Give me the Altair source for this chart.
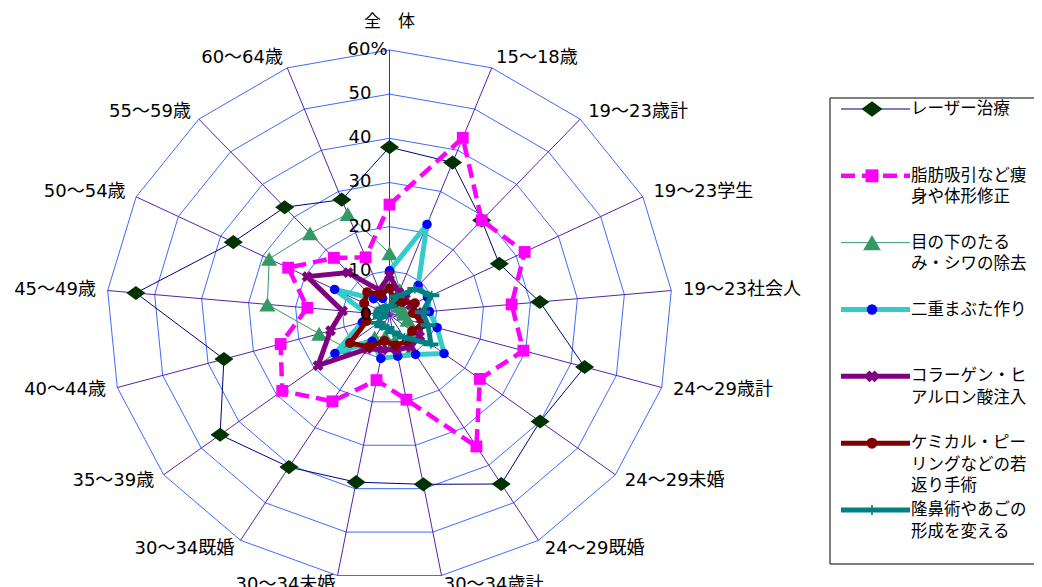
import altair as alt
import pandas as pd

# ---------------- data ----------------
cats = ["全　体", "15～18歳", "19～23歳計", "19～23学生", "19～23社会人",
        "24～29歳計", "24～29未婚", "24～29既婚", "30～34歳計", "30～34未婚",
        "30～34既婚", "35～39歳", "40～44歳", "45～49歳", "50～54歳",
        "55～59歳", "60～64歳"]

series_names = ["レーザー治療", "脂肪吸引など痩身や体形修正", "目の下のたるみ・シワの除去",
                "二重まぶた作り", "コラーゲン・ヒアルロン酸注入",
                "ケミカル・ピーリングなどの若返り手術", "隆鼻術やあごの形成を変える"]
legend_lines = [["レーザー治療"],
                ["脂肪吸引など痩", "身や体形修正"],
                ["目の下のたる", "み・シワの除去"],
                ["二重まぶた作り"],
                ["コラーゲン・ヒ", "アルロン酸注入"],
                ["ケミカル・ピー", "リングなどの若", "返り手術"],
                ["隆鼻術やあごの", "形成を変える"]]

laser    = [38, 37, 29, 26, 32, 43, 40, 45, 39, 38.5, 40.5, 45, 36.5, 54, 37, 33, 28]
lipo     = [25, 43, 29, 32, 26, 29.5, 24, 35, 19.5, 15, 23, 28.5, 24, 17.5, 24, 17.5, 14]
eye      = [14, 6, 3, 3, 3, 4, 6, 9, 6, 5, 6, 12, 15.5, 26, 28.5, 25, 24.5]
double   = [10, 22, 9, 9, 8.5, 10.5, 14.5, 10.5, 9.5, 10, 7, 14.5, 6, 5, 13, 5, 4]
collagen = [9, 5.5, 5, 5, 6, 7, 8, 8.5, 8, 8, 9, 19, 13, 10, 19.5, 13, 6]
chemical = [6, 3, 4, 6, 5, 7.5, 6, 7, 7, 6, 8.5, 10.5, 5, 5, 6, 7, 5]
nose     = [2, 4.5, 8, 10, 7, 8.5, 11, 6, 4, 3, 3, 3, 2, 2, 2, 2, 2]
series_values = [laser, lipo, eye, double, collagen, chemical, nose]

ticks = [0, 10, 20, 30, 40, 50, 60]
tick_labels = ["0", "10", "20", "30", "40", "50", "60%"]

# ---------------- styles ----------------
TEAL_MARK = "M-1,-0.25L1,-0.25L1,0.25L-1,0.25Z M-0.1,-0.6L0.1,-0.6L0.1,0.6L-0.1,0.6Z"
WIDE_DIAMOND = "M-1.35,0L0,-1L1.35,0L0,1Z"
styles = [
    dict(line="#000080", w=1, dash=None, shape=WIDE_DIAMOND, mc="#003300", size=200),
    dict(line="#FF00FF", w=4.5, dash=[14, 7], shape="square", mc="#FF00FF", size=140),
    dict(line="#339966", w=1, dash=None, shape="triangle-up", mc="#339966", size=260),
    dict(line="#33CCCC", w=5, dash=None, shape="circle", mc="#0000FF", size=90),
    dict(line="#800080", w=5, dash=None, shape="cross", mc="#800080", size=120, angle=45),
    dict(line="#800000", w=5, dash=None, shape="circle", mc="#800000", size=100),
    dict(line="#008080", w=5, dash=None, shape=TEAL_MARK, mc="#008080", size=230),
]

RING_COLOR = "#3D6BFF"
SPOKE_COLOR = "#5522AA"
LATIN = "DejaVu Sans, Noto Sans CJK JP"
JP = "Noto Sans CJK JP"

N = len(cats)
TH = f"datum.k * 2 * PI / {N}"
RMAX = ticks[-1]

W, H = 1026, 579
XS = alt.Scale(domain=[-80.88, 136.63], nice=False, zero=False)
YS = alt.Scale(domain=[-61.58, 69.50], nice=False, zero=False)


def xy():
    return dict(x=alt.X("px:Q", scale=XS, axis=None),
                y=alt.Y("py:Q", scale=YS, axis=None))


# ---------------- grid ----------------
ring_df = pd.DataFrame([dict(level=t, k=k) for t in ticks[1:] for k in range(N)])
rings = (alt.Chart(ring_df)
         .transform_calculate(th=TH)
         .transform_calculate(px="datum.level * sin(datum.th)")
         .transform_calculate(py="datum.level * cos(datum.th)")
         .mark_line(interpolate="linear-closed", color=RING_COLOR, strokeWidth=1)
         .encode(**xy(), detail="level:N", order="k:Q"))

spoke_df = pd.DataFrame({"k": list(range(N))})
spokes = (alt.Chart(spoke_df)
          .transform_calculate(th=TH)
          .transform_calculate(px="0")
          .transform_calculate(py="0")
          .transform_calculate(px2=f"{RMAX} * sin(datum.th)")
          .transform_calculate(py2=f"{RMAX} * cos(datum.th)")
          .mark_rule(color=SPOKE_COLOR, strokeWidth=1)
          .encode(**xy(), x2="px2:Q", y2="py2:Q"))

tick_df = pd.DataFrame({"v": ticks, "label": tick_labels})
tick_base = (alt.Chart(tick_df)
             .transform_calculate(px="0")
             .transform_calculate(py="datum.v"))
tick_text = (tick_base.transform_filter(f"datum.v < {RMAX}")
             .mark_text(align="right", baseline="middle", dx=-18, fontSize=18,
                        font=LATIN, color="black")
             .encode(**xy(), text="label:N"))
tick_top = (tick_base.transform_filter(f"datum.v >= {RMAX}")
            .mark_text(align="left", baseline="middle", dx=-42, fontSize=18,
                       font=LATIN, color="black")
            .encode(**xy(), text="label:N"))

cat_df = pd.DataFrame({"k": list(range(N)), "cat": cats})
cat_base = alt.Chart(cat_df).transform_calculate(th=TH)
cat_right = (cat_base.transform_filter("sin(datum.th) > 0.01")
             .transform_calculate(px="62.5 * sin(datum.th)")
             .transform_calculate(py="62.3 * cos(datum.th)")
             .mark_text(align="left", baseline="middle", fontSize=18, font=LATIN, color="black")
             .encode(**xy(), text="cat:N"))
cat_left = (cat_base.transform_filter("sin(datum.th) < -0.01")
            .transform_calculate(px="62.5 * sin(datum.th)")
            .transform_calculate(py="62.3 * cos(datum.th)")
            .mark_text(align="right", baseline="middle", fontSize=18, font=LATIN, color="black")
            .encode(**xy(), text="cat:N"))
cat_top = (cat_base.transform_filter("abs(sin(datum.th)) <= 0.01")
           .transform_calculate(px="0")
           .transform_calculate(py="66.3")
           .mark_text(align="center", baseline="middle", fontSize=17, font=JP, color="black")
           .encode(**xy(), text="cat:N"))

# ---------------- series ----------------
rows = [dict(series=series_names[s], sid=s, k=k, value=v)
        for s, vals in enumerate(series_values) for k, v in enumerate(vals)]
data_df = pd.DataFrame(rows)
base = (alt.Chart(data_df)
        .transform_calculate(th=TH)
        .transform_calculate(px="datum.value * sin(datum.th)")
        .transform_calculate(py="datum.value * cos(datum.th)"))

series_layers = []
for s, st in enumerate(styles):
    line_kw = dict(interpolate="linear-closed", color=st["line"], strokeWidth=st["w"])
    if st["dash"]:
        line_kw["strokeDash"] = st["dash"]
    ln = (base.transform_filter(f"datum.sid == {s}")
          .mark_line(**line_kw)
          .encode(**xy(), order="k:Q"))
    pt_kw = dict(shape=st["shape"], filled=True, color=st["mc"], size=st["size"], opacity=1)
    if "angle" in st:
        pt_kw["angle"] = st["angle"]
    pt = (base.transform_filter(f"datum.sid == {s}")
          .mark_point(**pt_kw)
          .encode(**xy()))
    series_layers += [ln, pt]

# ---------------- legend ----------------
LS = alt.Scale(domain=[0, len(series_names) - 1], range=[101, 502])
leg_df = pd.DataFrame({"sid": list(range(len(series_names))), "series": series_names})
leg_text_df = pd.DataFrame([dict(sid=s, j=j, txt=t)
                            for s, lines in enumerate(legend_lines)
                            for j, t in enumerate(lines)])

legend_box = (alt.Chart(leg_df.head(1))
              .mark_rect(fillOpacity=0, stroke="black", strokeWidth=1)
              .encode(x=alt.value(822), x2=alt.value(1060),
                      y=alt.value(90), y2=alt.value(556)))

legend_layers = [legend_box]
for s, st in enumerate(styles):
    rule_kw = dict(color=st["line"], strokeWidth=st["w"])
    if st["dash"]:
        rule_kw["strokeDash"] = st["dash"]
    r = (alt.Chart(leg_df).transform_filter(f"datum.sid == {s}")
         .mark_rule(**rule_kw)
         .encode(x=alt.value(833), x2=alt.value(902),
                 y=alt.Y("sid:Q", scale=LS, axis=None)))
    pt_kw = dict(shape=st["shape"], filled=True, color=st["mc"], size=st["size"] * 1.2, opacity=1)
    if "angle" in st:
        pt_kw["angle"] = st["angle"]
    p = (alt.Chart(leg_df).transform_filter(f"datum.sid == {s}")
         .mark_point(**pt_kw)
         .encode(x=alt.value(864), y=alt.Y("sid:Q", scale=LS, axis=None)))
    legend_layers += [r, p]

legend_text = (alt.Chart(leg_text_df)
               .transform_calculate(lpos="datum.sid + datum.j * 0.322")
               .mark_text(align="left", baseline="middle", fontSize=16.5, font=JP, color="black")
               .encode(x=alt.value(903), y=alt.Y("lpos:Q", scale=LS, axis=None), text="txt:N"))
legend_layers.append(legend_text)

chart = (alt.layer(rings, spokes, *series_layers, tick_text, tick_top,
                   cat_right, cat_left, cat_top, *legend_layers)
         .resolve_scale(y="independent")
         .properties(width=W, height=H, padding=0,
                     autosize=alt.AutoSizeParams(type="none"))
         .configure_view(stroke=None))

chart.save("out.html", embed_options={"renderer": "svg", "actions": False})
